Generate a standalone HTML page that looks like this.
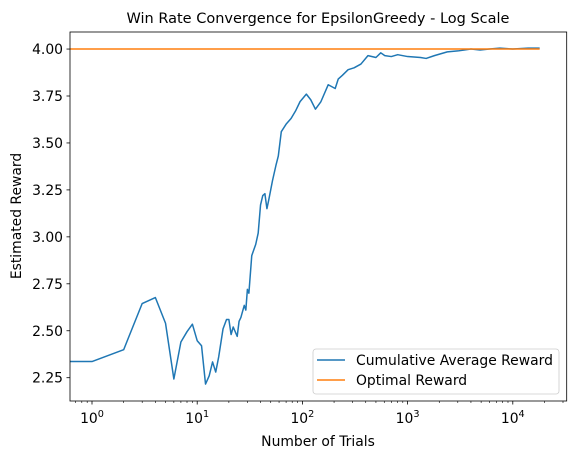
<!DOCTYPE html>
<html><head><meta charset="utf-8"><style>
body{margin:0;background:#fff;}
svg{display:block;font-family:"DejaVu Sans","Liberation Sans",sans-serif;}
</style></head><body>
<svg id="chart" width="575" height="459" viewBox="0 0 575 459" xmlns="http://www.w3.org/2000/svg">
<rect width="575" height="459" fill="#fff"/>
<text x="318" y="23" font-size="14.5" text-anchor="middle" fill="#000">Win Rate Convergence for EpsilonGreedy - Log Scale</text>
<text x="318" y="446" font-size="13.9" text-anchor="middle" fill="#000">Number of Trials</text>
<text x="21" y="216" font-size="13.9" text-anchor="middle" fill="#000" transform="rotate(-90 21 216)">Estimated Reward</text>
<g id="plot"></g>
</svg>
<script>
const trials = [0.5,1,2,3,4,5,6,7,8,9,10,11,12,13,14,15,16,17.6,19,20,21,22,24,25,26,28,29,30,31,33,36,38,40,42,44,46,48,52,56,59,63,70,78,86,95,109,120,133,150,176,190,205,219,240,272,310,360,420,500,556,607,700,805,1000,1327,1500,1798,2383,3000,3450,4000,4890,6000,7540,10000,14000,18000];
const avgReward = [2.336,2.336,2.399,2.645,2.677,2.54,2.243,2.44,2.495,2.535,2.447,2.42,2.216,2.26,2.334,2.28,2.36,2.51,2.56,2.56,2.48,2.52,2.47,2.55,2.57,2.635,2.61,2.72,2.70,2.90,2.96,3.02,3.17,3.22,3.23,3.15,3.20,3.30,3.38,3.43,3.56,3.60,3.63,3.67,3.72,3.76,3.73,3.68,3.72,3.81,3.80,3.79,3.84,3.86,3.89,3.90,3.92,3.965,3.955,3.98,3.965,3.96,3.97,3.96,3.955,3.95,3.965,3.985,3.99,3.995,4.00,3.995,4.0,4.005,4.0,4.005,4.005];
const optimalTrials = [0.5,18000];
const optimalReward = [4.0,4.0];
const yTicks = [2.25,2.50,2.75,3.00,3.25,3.50,3.75,4.00];
const xDecades = [0,1,2,3,4];

const L=70,R=566.7,T=32,B=401;
const xs = n => 92 + 105.2*Math.log10(n);
const ys = v => 377.7 - (v-2.25)*187.8;
const NS="http://www.w3.org/2000/svg";
const g=document.getElementById('plot');
function mk(tag,attrs,parent){const e=document.createElementNS(NS,tag);for(const k in attrs)e.setAttribute(k,attrs[k]);(parent||g).appendChild(e);return e;}

const clip=mk('clipPath',{id:'cp'});mk('rect',{x:L,y:T,width:R-L,height:B-T},clip);

yTicks.forEach(v=>{
  const y=ys(v);
  const t=mk('line',{x1:L-3.5,x2:L,y1:y,y2:y,stroke:'#000','stroke-width':0.8});
  
  
  const lb=mk('text',{x:L-7,y:y+5,'font-size':13.9,'text-anchor':'end',fill:'#000'});
  lb.textContent=v.toFixed(2);
  
  
});
for(let d=-1;d<=4;d++){
  for(let m=1;m<10;m++){
    const n=m*Math.pow(10,d);const x=xs(n);
    if(x<L-0.5||x>R+0.5)continue;
    const t=mk('line',{x1:x,x2:x,y1:B,y2:B+(m===1?3.5:2),stroke:'#000','stroke-width':m===1?0.8:0.6});
    
    
  }
}
xDecades.forEach(d=>{
  const x=xs(Math.pow(10,d));
  const lb=mk('text',{x:x,y:B+22,'font-size':13.9,'text-anchor':'middle',fill:'#000'});
  
  
  lb.appendChild(document.createTextNode('10'));
  const s=mk('tspan',{dy:-6,'font-size':9.7},lb);s.textContent=String(d);
});

function path(xsArr,ysArr){return xsArr.map((n,i)=>(i?'L':'M')+xs(n).toFixed(2)+' '+ys(ysArr[i]).toFixed(2)).join(' ');}
const s1=mk('path',{d:path(trials,avgReward),fill:'none',stroke:'#1f77b4','stroke-width':1.5,'stroke-linejoin':'round','clip-path':'url(#cp)'});


const s2=mk('path',{d:path(optimalTrials,optimalReward),fill:'none',stroke:'#ff7f0e','stroke-width':1.5,'clip-path':'url(#cp)'});



const fr=mk('rect',{x:L,y:T,width:R-L,height:B-T,fill:'none',stroke:'#000','stroke-width':0.8});



const lg=mk('g',{});


mk('rect',{x:313,y:349,width:246,height:45,rx:3,fill:'#fff','fill-opacity':0.8,stroke:'#ccc','stroke-width':0.8},lg);
const e1=mk('g',{},lg);


mk('line',{x1:317,x2:345,y1:360,y2:360,stroke:'#1f77b4','stroke-width':1.5},e1);
const t1=mk('text',{x:356,y:365,'font-size':13.9,fill:'#000'},e1);t1.textContent='Cumulative Average Reward';
const e2=mk('g',{},lg);


mk('line',{x1:317,x2:345,y1:380,y2:380,stroke:'#ff7f0e','stroke-width':1.5},e2);
const t2=mk('text',{x:356,y:385,'font-size':13.9,fill:'#000'},e2);t2.textContent='Optimal Reward';
</script>
</body></html>
